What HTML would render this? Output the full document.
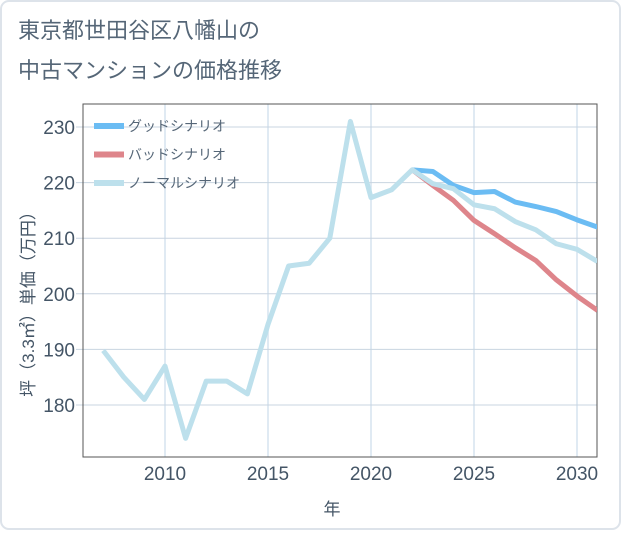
<!DOCTYPE html>
<html><head><meta charset="utf-8"><style>
body{margin:0;background:#fff;}
svg text{font-family:"Liberation Sans","Noto Sans CJK JP",sans-serif;}
</style></head><body>
<svg width="621" height="530" xmlns="http://www.w3.org/2000/svg">
<rect x="1" y="1" width="619" height="528" rx="8" fill="#fff" stroke="#dde3ea" stroke-width="2"/>
<text x="18" y="38" font-size="22" fill="#556677">東京都世田谷区八幡山の</text>
<text x="18" y="78" font-size="22" fill="#556677">中古マンションの価格推移</text>
<g id="grid"></g>
<rect x="83" y="104" width="514" height="353" fill="none" stroke="#555" stroke-width="1"/>
<g id="series"></g>
<g id="legend"></g>
<text x="332" y="515" font-size="17" fill="#445566" text-anchor="middle">年</text>
<text transform="translate(34,300) rotate(-90)" font-size="17" fill="#445566" text-anchor="middle">坪（3.3㎡）単価（万円）</text>
</svg>
<script>
const years=[2007,2008,2009,2010,2011,2012,2013,2014,2015,2016,2017,2018,2019,2020,2021,2022,2023,2024,2025,2026,2027,2028,2029,2030,2031];
const normal=[189.8,185,181,187,174,184.3,184.3,182,194.5,205,205.5,210,231,217.3,218.7,222.3,219.8,218.9,216,215.3,213,211.5,209,208,205.8];
const goodYears=[2022,2023,2024,2025,2026,2027,2028,2029,2030,2031];
const good=[222.3,222,219.5,218.2,218.4,216.5,215.7,214.8,213.3,212];
const bad=[222.3,219.5,216.8,213.2,210.8,208.3,206,202.5,199.6,197];
const xTicks=[2010,2015,2020,2025,2030];
const yTicks=[180,190,200,210,220,230];
const NS="http://www.w3.org/2000/svg";
const X=v=>165+(v-2010)*20.6;
const Y=v=>405-(v-180)*5.56;
const grid=document.getElementById('grid'),ser=document.getElementById('series'),leg=document.getElementById('legend');
function mk(tag,attrs,parent){const e=document.createElementNS(NS,tag);for(const k in attrs)e.setAttribute(k,attrs[k]);parent.appendChild(e);return e;}
xTicks.forEach(t=>{
 const l=mk('line',{x1:X(t),x2:X(t),y1:104,y2:457,stroke:'#d5e3ef','stroke-width':1.5},grid);
 
 
 const tx=mk('text',{x:X(t),y:480,'font-size':19,fill:'#445566','text-anchor':'middle'},grid);
 tx.textContent=t;
 
 
});
yTicks.forEach(t=>{
 const l=mk('line',{x1:76,x2:597,y1:Y(t),y2:Y(t),stroke:'#c8d4e0','stroke-width':1},grid);
 
 
 const tx=mk('text',{x:75,y:Y(t)+7,'font-size':19,fill:'#445566','text-anchor':'end'},grid);
 tx.textContent=t;
 
 
});
function line(xs,ys,color,name){
 const p=mk('polyline',{points:xs.map((x,i)=>X(x)+','+Y(ys[i])).join(' '),fill:'none',stroke:color,'stroke-width':5,'stroke-linejoin':'round'},ser);
 
 
}
const clip=mk('clipPath',{id:'c'},ser);mk('rect',{x:83,y:104,width:514,height:353},clip);
ser.setAttribute('clip-path','url(#c)');
line(goodYears,good,'#6bbcf3','good-scenario-line');
line(goodYears,bad,'#de858b','bad-scenario-line');
line(years,normal,'#bde0ec','normal-scenario-line');
[['グッドシナリオ','#6bbcf3'],['バッドシナリオ','#de858b'],['ノーマルシナリオ','#bde0ec']].forEach((d,i)=>{
 const y=126+i*28.5;
 const r=mk('rect',{x:94,y:y-3,width:30,height:6,fill:d[1]},leg);
 
 
 const t=mk('text',{x:128,y:y+5,'font-size':14,fill:'#556677'},leg);
 t.textContent=d[0];
 
 
});
</script>
</body></html>
